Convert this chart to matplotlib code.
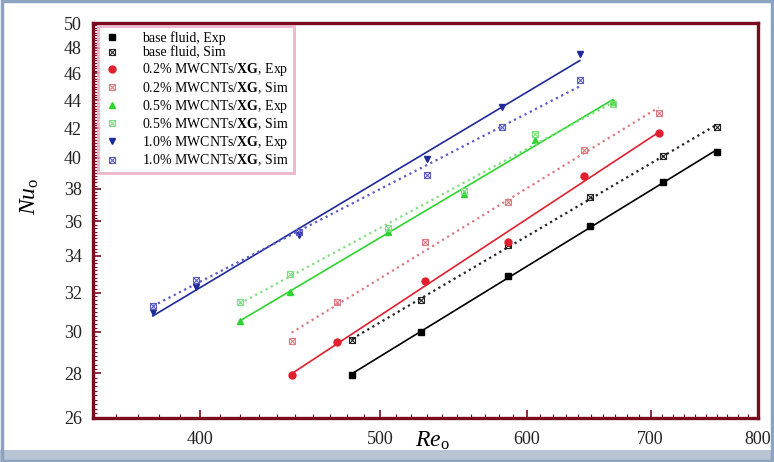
import numpy as np
import matplotlib
matplotlib.use("Agg")
import matplotlib.pyplot as plt
from matplotlib.lines import Line2D
from matplotlib.patches import Rectangle
from matplotlib.ticker import FixedLocator, NullFormatter

plt.rcParams['font.family'] = ['Liberation Serif', 'DejaVu Serif']
plt.rcParams['mathtext.fontset'] = 'custom'
plt.rcParams['mathtext.rm'] = 'Liberation Serif'
plt.rcParams['mathtext.it'] = 'Liberation Serif:italic'
plt.rcParams['mathtext.bf'] = 'Liberation Serif:bold'

# data (Re_o, Nu_o)
re_base = [483, 526, 586, 649, 711, 760]
nu_base_exp = [27.9, 30.0, 32.9, 35.7, 38.4, 40.4]
nu_base_sim = [29.6, 31.6, 34.6, 37.5, 40.1, 42.1]

re_02 = [448, 474, 529, 586, 644, 707]
nu_02_exp = [27.9, 29.5, 32.6, 34.8, 38.8, 41.7]
nu_02_sim = [29.55, 31.5, 34.8, 37.2, 40.5, 43.1]

re_05 = [420, 447, 505, 555, 606, 668]
nu_05_exp = [30.55, 32.05, 35.4, 37.7, 41.2, 43.9]
nu_05_sim = [31.5, 33.0, 35.6, 37.85, 41.6, 43.7]

re_10 = [377, 398, 452, 530, 582, 641]
nu_10_exp = [31.0, 32.3, 35.2, 39.9, 43.5, 47.5]
nu_10_sim = [31.3, 32.7, 35.4, 38.9, 42.1, 45.5]

labels = ['base fluid, Exp', 'base fluid, Sim',
          r'0.2% MWCNTs/$\mathbf{XG}$, Exp', r'0.2% MWCNTs/$\mathbf{XG}$, Sim',
          r'0.5% MWCNTs/$\mathbf{XG}$, Exp', r'0.5% MWCNTs/$\mathbf{XG}$, Sim',
          r'1.0% MWCNTs/$\mathbf{XG}$, Exp', r'1.0% MWCNTs/$\mathbf{XG}$, Sim']

series = [
    (re_base, nu_base_exp, nu_base_sim, 's', '#000000', '#222222'),
    (re_02, nu_02_exp, nu_02_sim, 'o', '#e0202e', '#e07a80'),
    (re_05, nu_05_exp, nu_05_sim, '^', '#2ed42e', '#7de07d'),
    (re_10, nu_10_exp, nu_10_sim, 'v', '#1c2a9a', '#5a5ac8'),
]

maroon = '#7a0b1c'

fig = plt.figure(figsize=(7.74, 4.62), dpi=100)
ax = fig.add_axes([93 / 774, 44 / 462, 665 / 774, 395 / 462])
ax.set_xscale('log')
ax.set_yscale('log')


def fit_line(x, y):
    # straight trend line in the log-log plane
    k, b = np.polyfit(np.log(x), np.log(y), 1)
    xs = np.array([min(x), max(x)])
    return xs, np.exp(k * np.log(xs) + b)


handles = []
for re, exp_vals, sim_vals, mk, c_exp, c_sim in series:
    xs, ys = fit_line(re, exp_vals)
    ax.plot(xs, ys, '-', color=c_exp, lw=1.2)
    ax.plot(re, exp_vals, mk, color=c_exp, ms=5, ls='none')
    xs, ys = fit_line(re, sim_vals)
    ax.plot(xs, ys, ':', color=c_sim, lw=1.6)
    ax.plot(re, sim_vals, 's', mfc='none', mec=c_sim, ms=4.5, mew=0.8, ls='none')
    ax.plot(re, sim_vals, 'x', color=c_sim, ms=4, mew=0.8, ls='none')
    h_exp = Line2D([], [], marker=mk, color=c_exp, ls='none', ms=5)
    h_sq = Line2D([], [], marker='s', mfc='none', mec=c_sim, ls='none', ms=4.5, mew=0.8)
    h_x = Line2D([], [], marker='x', color=c_sim, ls='none', ms=4, mew=0.8)
    handles += [h_exp, (h_sq, h_x)]

ax.set_xlim(350, 800)
ax.set_ylim(26, 50)

ax.xaxis.set_major_locator(FixedLocator([400, 500, 600, 700, 800]))
ax.xaxis.set_minor_locator(FixedLocator(np.arange(350, 801, 10)))
ax.set_xticklabels(['400', '500', '600', '700', '800'])
ax.xaxis.set_minor_formatter(NullFormatter())

ax.yaxis.set_major_locator(FixedLocator(np.arange(26, 51, 2)))
ax.yaxis.set_minor_locator(FixedLocator(np.arange(26, 50.01, 0.2)))
ax.set_yticklabels([str(v) for v in range(26, 51, 2)])
ax.yaxis.set_minor_formatter(NullFormatter())

ax.tick_params(which='both', direction='in', color=maroon, top=False, right=False,
               labelsize=13, labelcolor='#222222')
ax.tick_params(which='major', length=6, width=1.2)
ax.tick_params(which='minor', length=3, width=0.8)
ax.tick_params(axis='x', pad=9)
ax.tick_params(axis='y', pad=8)

for sp in ax.spines.values():
    sp.set_color(maroon)
    sp.set_linewidth(2.4)

ax.set_xlabel(r'$Re_{\mathrm{o}}$', fontsize=17)
ax.xaxis.set_label_coords(0.51, -0.03)
ax.set_ylabel(r'$Nu_{\mathrm{o}}$', fontsize=17)
ax.yaxis.set_label_coords(-0.078, 0.56)

leg = ax.legend(handles, labels, loc='upper left', bbox_to_anchor=(0.008, 0.992),
                fontsize=10, frameon=True, fancybox=False, borderaxespad=0,
                handlelength=1.2, handletextpad=1.6, labelspacing=0.13,
                borderpad=0.35)
leg.get_frame().set_edgecolor('#e8a3bd')
leg.get_frame().set_linewidth(2.0)

# screenshot-like outer frame
fig.patches.append(Rectangle((0, 0), 1, 12 / 462, transform=fig.transFigure,
                             facecolor='#b9c4d4', edgecolor='none', zorder=-1))
fig.patches.append(Rectangle((0.002, 0.003), 0.996, 0.994, transform=fig.transFigure,
                             facecolor='none', edgecolor='#8da3c2', lw=2.5))

fig.savefig('out.png', dpi=100)
